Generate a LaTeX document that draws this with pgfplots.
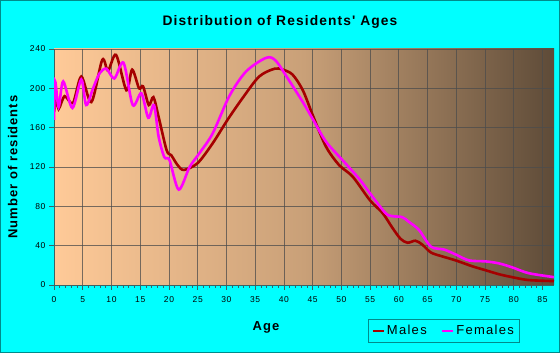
\documentclass[border=0pt]{standalone}
\usepackage{fontspec}
\setmainfont{Liberation Sans}
\newfontfamily\spfont[LetterSpace=8]{Liberation Sans}
\newfontfamily\lgfont[LetterSpace=10]{Liberation Sans}
\usepackage{pgfplots}
\pgfplotsset{compat=1.18}
\definecolor{bgcyan}{HTML}{00FFFF}
\definecolor{frame}{HTML}{008B8B}
\definecolor{males}{HTML}{A50000}
\definecolor{females}{HTML}{FF00FF}
\definecolor{shA}{HTML}{FFCA98}
\definecolor{shB}{HTML}{C9A078}
\definecolor{shC}{HTML}{5E4B38}
\definecolor{axcol}{HTML}{3A6464}
\begin{document}
\begin{tikzpicture}
\fill[bgcyan] (0pt,0pt) rectangle (560pt,353pt);
\draw[frame,line width=1pt] (0.5pt,0.5pt) rectangle (559.5pt,352.5pt);
\node[font=\spfont\bfseries\fontsize{13.8}{15}\selectfont] at (280pt,331pt) {Distribution of Residents' Ages};
\begin{axis}[
  at={(54pt,68pt)}, anchor=south west,
  scale only axis, width=500pt, height=236pt,
  xmin=0, xmax=87, ymin=0, ymax=240,
  xtick={0,5,...,85}, ytick={0,40,...,240},
  minor x tick num=4,
  tick align=outside, axis x line*=bottom, axis y line*=left,
  axis line style={axcol, line width=0.8pt},
  every tick/.style={axcol, line width=0.6pt},
  major tick length=5pt, minor tick length=3pt,
  grid=major,
  major grid style={black!70, opacity=0.75, line width=0.7pt},
  axis background/.style={left color=shA, right color=shC, middle color=shB},
  /pgf/number format/assume math mode=true,
  tick label style={font=\spfont\fontsize{8.5}{10}\selectfont, text=black},
  xticklabel style={yshift=-3pt},
  xlabel={Age}, ylabel={Number of residents},
  label style={font=\spfont\bfseries\fontsize{13}{15}\selectfont},
  x label style={at={(axis description cs:0.424,-0.178)}, anchor=center},
  y label style={at={(axis description cs:-0.0825,0.5)}, anchor=center},
  legend columns=2,
  legend style={at={(axis description cs:0.628,-0.144)}, anchor=north west,
    fill=bgcyan, draw=frame, line width=0.8pt, font=\lgfont\fontsize{13}{15}\selectfont,
    inner xsep=3pt, inner ysep=4pt,
    /tikz/every even column/.append style={column sep=12pt}},
  legend image code/.code={\draw[line width=2.5pt] (0pt,0pt) -- (11pt,0pt);},
  clip=true,
]
\addplot[males, line width=2.6pt, smooth, tension=0.5] coordinates {
(0,176) (0.4,191) (0.8,179) (1.85,192) (3.3,185) (4.75,212) (6.5,186) (8.4,229)
(9.4,218) (10.8,234) (12.6,198) (13.6,219) (14.8,200) (15.5,202) (16.5,183)
(17.3,191) (18.2,171) (19.6,137) (20.4,132) (21.5,122) (22.6,117) (25.0,124)
(27.6,144) (30.2,168) (32.8,190) (35.7,212) (38.4,220) (39.8,219) (41.5,214)
(43.3,198) (45.0,173) (47.3,141) (49.6,122) (52.0,110) (55.0,86) (57.2,73)
(58.9,58) (60.3,47) (61.5,43) (62.9,45) (64.1,41) (65.6,33) (67.6,29)
(69.9,25) (72.8,19) (75.1,15) (77.4,11) (79.7,8) (82.6,5) (87,4)
};
\addlegendentry{Males}
\addplot[females, line width=2.6pt, smooth, tension=0.5] coordinates {
(0,168) (0.2,207) (0.8,181) (1.6,207) (3.2,180) (4.75,209) (5.6,183) (6.8,200)
(7.9,215) (9.1,220) (10.5,210) (12.1,226) (13.7,183) (15.2,195) (16.4,170)
(17.4,183) (18.2,151) (19.2,130) (20.1,127) (21.7,97) (23.6,120) (25.3,134)
(27.6,154) (30.5,192) (33.4,217) (36.9,231) (38.6,228) (40.9,208) (43.3,186)
(45.0,169) (47.3,146) (50.2,127) (53.1,108) (55.4,90) (57.7,73) (58.9,70)
(60.6,69) (61.8,64) (63.5,56) (65.6,39) (67.9,36) (69.9,31) (72.2,25)
(75.1,24) (77.4,22) (79.7,18) (82.6,12) (87,8)
};
\addlegendentry{Females}
\end{axis}
\path[use as bounding box] (0pt,0pt) rectangle (560pt,353pt);
\end{tikzpicture}
\end{document}
